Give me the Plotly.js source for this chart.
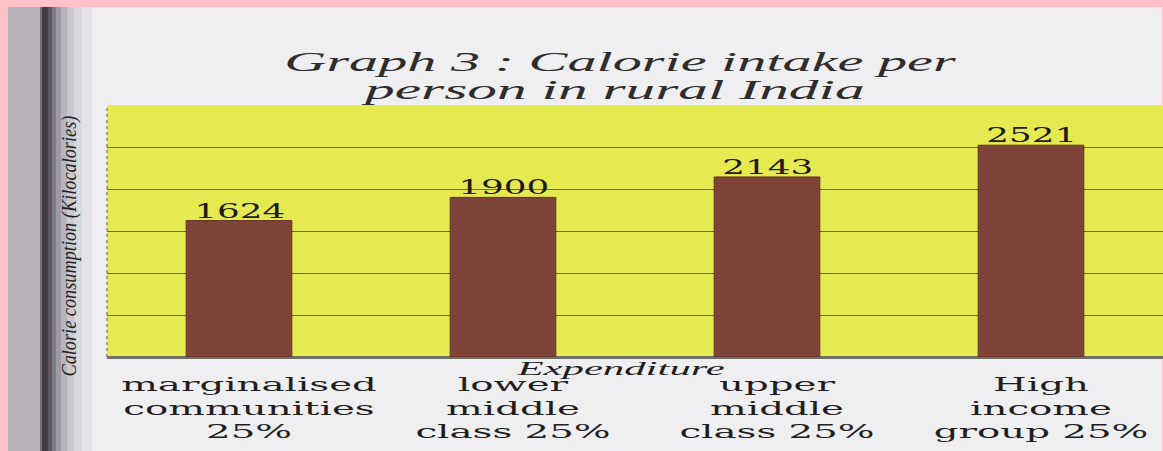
<!DOCTYPE html>
<html>
<head>
<meta charset="utf-8">
<script src="https://cdn.plot.ly/plotly-3.0.1.min.js"></script>
<style>
html,body{margin:0;padding:0;background:#ffc0c6;}
#chart{width:1163px;height:451px;}
</style>
</head>
<body>
<div id="chart"></div>
<script>
// ---- data ----
const categories = ['marginalised<br>communities<br>25%', 'lower<br>middle<br>class 25%', 'upper<br>middle<br>class 25%', 'High<br>income<br>group 25%'];
const calories = [1624, 1900, 2143, 2521];
const valueLabels = ['1624', '1900', '2143', '2521'];
const yGridValues = [0, 500, 1000, 1500, 2000, 2500, 3000];
const titleLine1 = 'Graph 3 : Calorie intake per';
const titleLine2 = 'person in rural India';
const xTitle = 'Expenditure';
const yTitle = 'Calorie consumption (Kilocalories)';

// ---- layout helpers (pixel -> paper) ----
const W = 1163, H = 451;
const M = {l: 107, r: 0, t: 105, b: 94};
const PW = W - M.l - M.r, PH = H - M.t - M.b;
const px = v => (v - M.l) / PW;
const py = v => (H - M.b - v) / PH;
function rect(x0, x1, y0, y1, color) {
  return {type: 'rect', xref: 'paper', yref: 'paper', layer: 'below',
    x0: px(x0), x1: px(x1), y0: py(y1), y1: py(y0), fillcolor: color, line: {width: 0}};
}

const shapes = [
  rect(8, 1162, 7, 451, '#efeef1'),
  rect(8, 40, 7, 451, '#b6b2b8'),
  rect(40, 42, 7, 451, '#77717c'),
  rect(42, 48, 7, 451, '#433d49'),
  rect(48, 52, 7, 451, '#5e5964'),
  rect(52, 56, 7, 451, '#7f7b86'),
  rect(56, 61, 7, 451, '#9d9aa3'),
  rect(61, 67, 7, 451, '#b7b5bd'),
  rect(67, 74, 7, 451, '#cbc9cf'),
  rect(74, 82, 7, 451, '#d9d8dd'),
  rect(82, 92, 7, 451, '#e4e3e7'),
  {type: 'rect', xref: 'paper', yref: 'paper', layer: 'below', x0: 0, x1: 1, y0: 0, y1: 1, fillcolor: '#e4ea50', line: {width: 0}},
  {type: 'line', xref: 'paper', yref: 'paper', x0: 0, x1: 0, y0: 0, y1: 1, line: {color: '#8a8a70', width: 1.5, dash: 'dot'}}
];

const trace = {
  type: 'bar',
  x: categories,
  y: calories,
  marker: {color: '#7f4439', line: {color: '#5e302a', width: 1}},
  hoverinfo: 'skip'
};

const valueAnnotations = calories.map((v, i) => ({
  text: valueLabels[i], x: categories[i], y: v, xref: 'x', yref: 'y',
  xanchor: 'center', yanchor: 'bottom', yshift: -4, showarrow: false,
  font: {family: 'DejaVu Serif', size: 21, color: '#1e1a18'}
}));

const layout = {
  width: W, height: H,
  margin: M,
  paper_bgcolor: '#ffc0c6',
  plot_bgcolor: 'rgba(0,0,0,0)',
  showlegend: false,
  bargap: 0.6,
  title: {
    text: titleLine1,
    font: {family: 'Liberation Serif', size: 28, color: '#2e2c2c', style: 'italic'},
    x: 620 / W, xanchor: 'center', xref: 'container',
    y: 1 - 61 / H, yanchor: 'middle', yref: 'container'
  },
  xaxis: {
    type: 'category',
    range: [-0.5, 3.5],
    showgrid: false,
    showline: true, linecolor: '#6f6f66', linewidth: 1.5,
    ticks: '',
    tickfont: {family: 'DejaVu Serif', size: 18, color: '#221e1e'},
    ticklabelstandoff: 11,
    ticklabelshift: 10,
    fixedrange: true
  },
  yaxis: {
    range: [0, 3000],
    tickvals: yGridValues,
    showticklabels: false,
    showgrid: true, gridcolor: '#66664a', gridwidth: 1,
    zeroline: true, zerolinecolor: '#6f6f66', zerolinewidth: 1.5,
    ticks: '',
    fixedrange: true
  },
  shapes: shapes,
  annotations: [
    {text: titleLine2, xref: 'paper', yref: 'paper', x: px(614), y: py(89), xanchor: 'center', yanchor: 'middle', showarrow: false,
     font: {family: 'Liberation Serif', size: 28, color: '#2e2c2c', style: 'italic'}},
    {text: xTitle, xref: 'paper', yref: 'paper', x: px(620), y: py(368.5), xanchor: 'center', yanchor: 'middle', showarrow: false,
     font: {family: 'Liberation Serif', size: 19, color: '#221e1e', style: 'italic'}},
    {text: yTitle, xref: 'paper', yref: 'paper', x: px(69), y: py(246), xanchor: 'center', yanchor: 'middle', textangle: -90, showarrow: false,
     font: {family: 'Liberation Serif', size: 21, color: '#221e1e', style: 'italic'}}
  ].concat(valueAnnotations)
};

function stretchEl(el, k) {
  const L = el.getComputedTextLength();
  if (L > 0) {
    el.setAttribute('textLength', (L * k).toFixed(1));
    el.setAttribute('lengthAdjust', 'spacingAndGlyphs');
  }
}
function stretch(sel, k) {
  document.querySelectorAll(sel).forEach(el => {
    const lines = el.querySelectorAll('tspan.line');
    if (lines.length) lines.forEach(t => stretchEl(t, k));
    else stretchEl(el, k);
  });
}

Plotly.newPlot('chart', [trace], layout, {displayModeBar: false, staticPlot: true}).then(() => {
  stretch('.gtitle', 2.08);
  stretch('.annotation[data-index="0"] .annotation-text', 2.12);
  stretch('.annotation[data-index="1"] .annotation-text', 2.25);
  stretch('.annotation[data-index="2"] .annotation-text', 0.87);
  for (let i = 3; i < 3 + calories.length; i++) stretch('.annotation[data-index="' + i + '"] .annotation-text', 1.7);
  stretch('.xtick text', 2.15);
});
</script>
</body>
</html>
